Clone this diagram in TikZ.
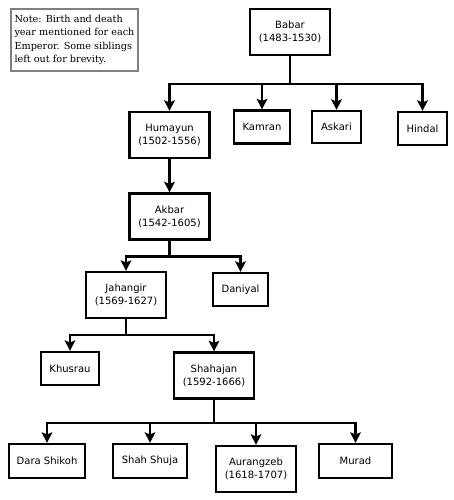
\documentclass[tikz,border=0pt]{standalone}
\usepackage{fontspec}
\setmainfont{DejaVu Sans}
\newfontfamily\notefont{DejaVu Serif}
\usetikzlibrary{arrows.meta}

\begin{document}
\begin{tikzpicture}[x=0.02cm,y=-0.02cm,
    box/.style={draw,line width=1.25pt,align=center,inner sep=0pt,minimum height=0.66cm,font=\fontsize{5.7}{7.5}\selectfont},
    two/.style={box,minimum width=1.6cm,minimum height=0.92cm},
    arr/.style={line width=1.25pt,-{Stealth[length=6pt,width=6pt,inset=1.2pt]}}]
  \useasboundingbox (0,0) rectangle (453,500);
  % note in the corner
  \node [draw=gray,line width=0.9pt,align=left,inner sep=0pt,minimum width=2.54cm,minimum height=1.24cm,font=\notefont\fontsize{5.5}{7.6}\selectfont] (note) at (74.5,40) {Note: Birth and death\\year mentioned for each\\Emperor. Some siblings\\left out for brevity.};
  % the family
  \node [two] (babar) at (290,32) {Babar\\(1483-1530)};
  \node [box,minimum width=1.12cm] (kamran) at (262,127) {Kamran};
  \node [box,minimum width=0.98cm,minimum height=0.64cm] (askari) at (336.5,127) {Askari};
  \node [box,minimum width=0.98cm] (hindal) at (422.5,128.5) {Hindal};
  \node [two] (humayun) at (169.5,135) {Humayun\\(1502-1556)};
  \node [two] (akbar) at (169.5,216.5) {Akbar\\(1542-1605)};
  \node [two] (jahangir) at (126,295) {Jahangir\\(1569-1627)};
  \node [box,minimum width=1.1cm] (daniyal) at (240.5,289.5) {Daniyal};
  \node [box,minimum width=1.16cm] (khusrau) at (70,368.5) {Khusrau};
  \node [two] (shahajan) at (214,375.5) {Shahajan\\(1592-1666)};
  \node [box,minimum width=1.52cm,minimum height=0.68cm] (dara) at (47,461) {Dara Shikoh};
  \node [box,minimum width=1.48cm,minimum height=0.68cm] (shuja) at (150,461) {Shah Shuja};
  \node [two] (aurangzeb) at (256,469) {Aurangzeb\\(1618-1707)};
  \node [box,minimum width=1.46cm,minimum height=0.68cm] (murad) at (355.5,461) {Murad};
  % lines down to the children
  \foreach \c in {humayun,kamran,askari,hindal}
    \draw [arr] (babar.south) -- ++(0,28) -| (\c.north);
  \draw [arr] (humayun) -- (akbar);
  \foreach \c in {jahangir,daniyal}
    \draw [arr] (akbar.south) -- ++(0,16) -| (\c.north);
  \foreach \c in {khusrau,shahajan}
    \draw [arr] (jahangir.south) -- ++(0,16) -| (\c.north);
  \foreach \c in {dara,shuja,aurangzeb,murad}
    \draw [arr] (shahajan.south) -- ++(0,23) -| (\c.north);
\end{tikzpicture}
\end{document}
